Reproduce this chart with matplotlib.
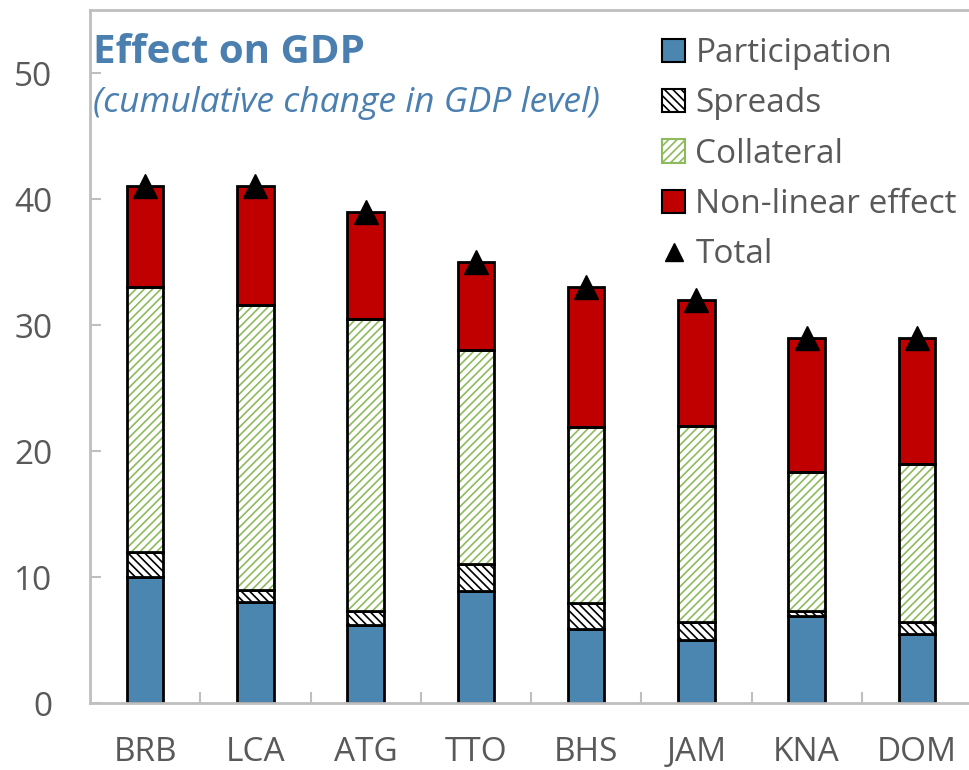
import matplotlib
matplotlib.use("Agg")
import matplotlib.pyplot as plt
import numpy as np
from matplotlib.patches import Patch
from matplotlib.lines import Line2D

plt.rcParams['font.family'] = ['Open Sans', 'DejaVu Sans']
plt.rcParams['hatch.linewidth'] = 1.2

categories = ["BRB", "LCA", "ATG", "TTO", "BHS", "JAM", "KNA", "DOM"]
participation = [10.0, 8.0, 6.2, 8.9, 5.9, 5.0, 6.9, 5.5]
spreads = [2.0, 1.0, 1.1, 2.1, 2.0, 1.4, 0.4, 0.9]
collateral = [21.0, 22.6, 23.2, 17.0, 14.0, 15.6, 11.0, 12.6]
nonlinear = [8.0, 9.4, 8.5, 7.0, 11.1, 10.0, 10.7, 10.0]
total = [41.0, 41.0, 39.0, 35.0, 33.0, 32.0, 29.0, 29.0]
yticks = [0, 10, 20, 30, 40, 50]

fig = plt.figure(figsize=(9.69, 7.70), dpi=100)
ax = fig.add_axes([90/969, 1-703/770, (972-90)/969, (703-10)/770])
ax.set_xlim(-0.5, 7.5)
ax.set_ylim(0, 55)

x = np.arange(len(categories))
w = 0.33
p = np.array(participation)
s = np.array(spreads)
c = np.array(collateral)
n = np.array(nonlinear)

blue = '#4a86b0'
green = '#8dbb5c'
red = '#c00000'

ax.bar(x, p, w, color=blue, edgecolor='black', linewidth=2, label='Participation', zorder=2)
ax.bar(x, s, w, bottom=p, color='white', edgecolor='black', hatch='\\\\\\\\', linewidth=2, label='Spreads', zorder=2)
ax.bar(x, c, w, bottom=p+s, color='white', edgecolor=green, hatch='////', linewidth=0, label='Collateral', zorder=2)
ax.bar(x, c, w, bottom=p+s, color='none', edgecolor='black', linewidth=2, zorder=2.1)
ax.bar(x, n, w, bottom=p+s+c, color=red, edgecolor='black', linewidth=2, label='Non-linear effect', zorder=2)
ax.plot(x, total, linestyle='none', marker='^', color='black', markersize=17, label='Total', zorder=3)

gray = '#bfbfbf'
for side in ['left', 'top', 'bottom', 'right']:
    ax.spines[side].set_color(gray)
    ax.spines[side].set_linewidth(2)
ax.set_yticks(yticks)
ax.set_yticklabels([str(v) for v in yticks])
ax.tick_params(axis='y', direction='in', length=8, width=1.5, color=gray,
               labelsize=24, labelcolor='#595959', pad=27)
ax.set_xticks(x)
ax.set_xticklabels(categories)
ax.tick_params(axis='x', which='major', length=0, labelsize=24, labelcolor='#595959', pad=24)
ax.set_xticks(np.arange(0.5, 7.5, 1), minor=True)
ax.tick_params(axis='x', which='minor', direction='in', length=8, width=1.5, color=gray)

fig.text(93/969, 1-63/770, 'Effect on GDP', fontsize=29, fontweight='bold', color='#4a7fb0', va='baseline')
fig.text(93/969, 1-112/770, '(cumulative change in GDP level)', fontsize=25.5, style='italic', color='#4a7fb0', va='baseline')

handles = [Patch(facecolor=blue, edgecolor='black', linewidth=1.5),
           Patch(facecolor='white', edgecolor='black', hatch='\\\\\\\\', linewidth=1.5),
           Patch(facecolor='white', edgecolor=green, hatch='////', linewidth=1.5),
           Patch(facecolor=red, edgecolor='black', linewidth=1.5),
           Line2D([], [], linestyle='none', marker='^', color='black', markersize=13)]
labels = ['Participation', 'Spreads', 'Collateral', 'Non-linear effect', 'Total']
leg = fig.legend(handles, labels, loc='upper left', bbox_to_anchor=(662/969, 1-37/770),
                 frameon=False, fontsize=24, handlelength=0.7, handleheight=0.7,
                 handletextpad=0.3, labelspacing=0.52, borderaxespad=0, borderpad=0)
for t in leg.get_texts():
    t.set_color('#595959')

fig.savefig('out.png', dpi=100)
